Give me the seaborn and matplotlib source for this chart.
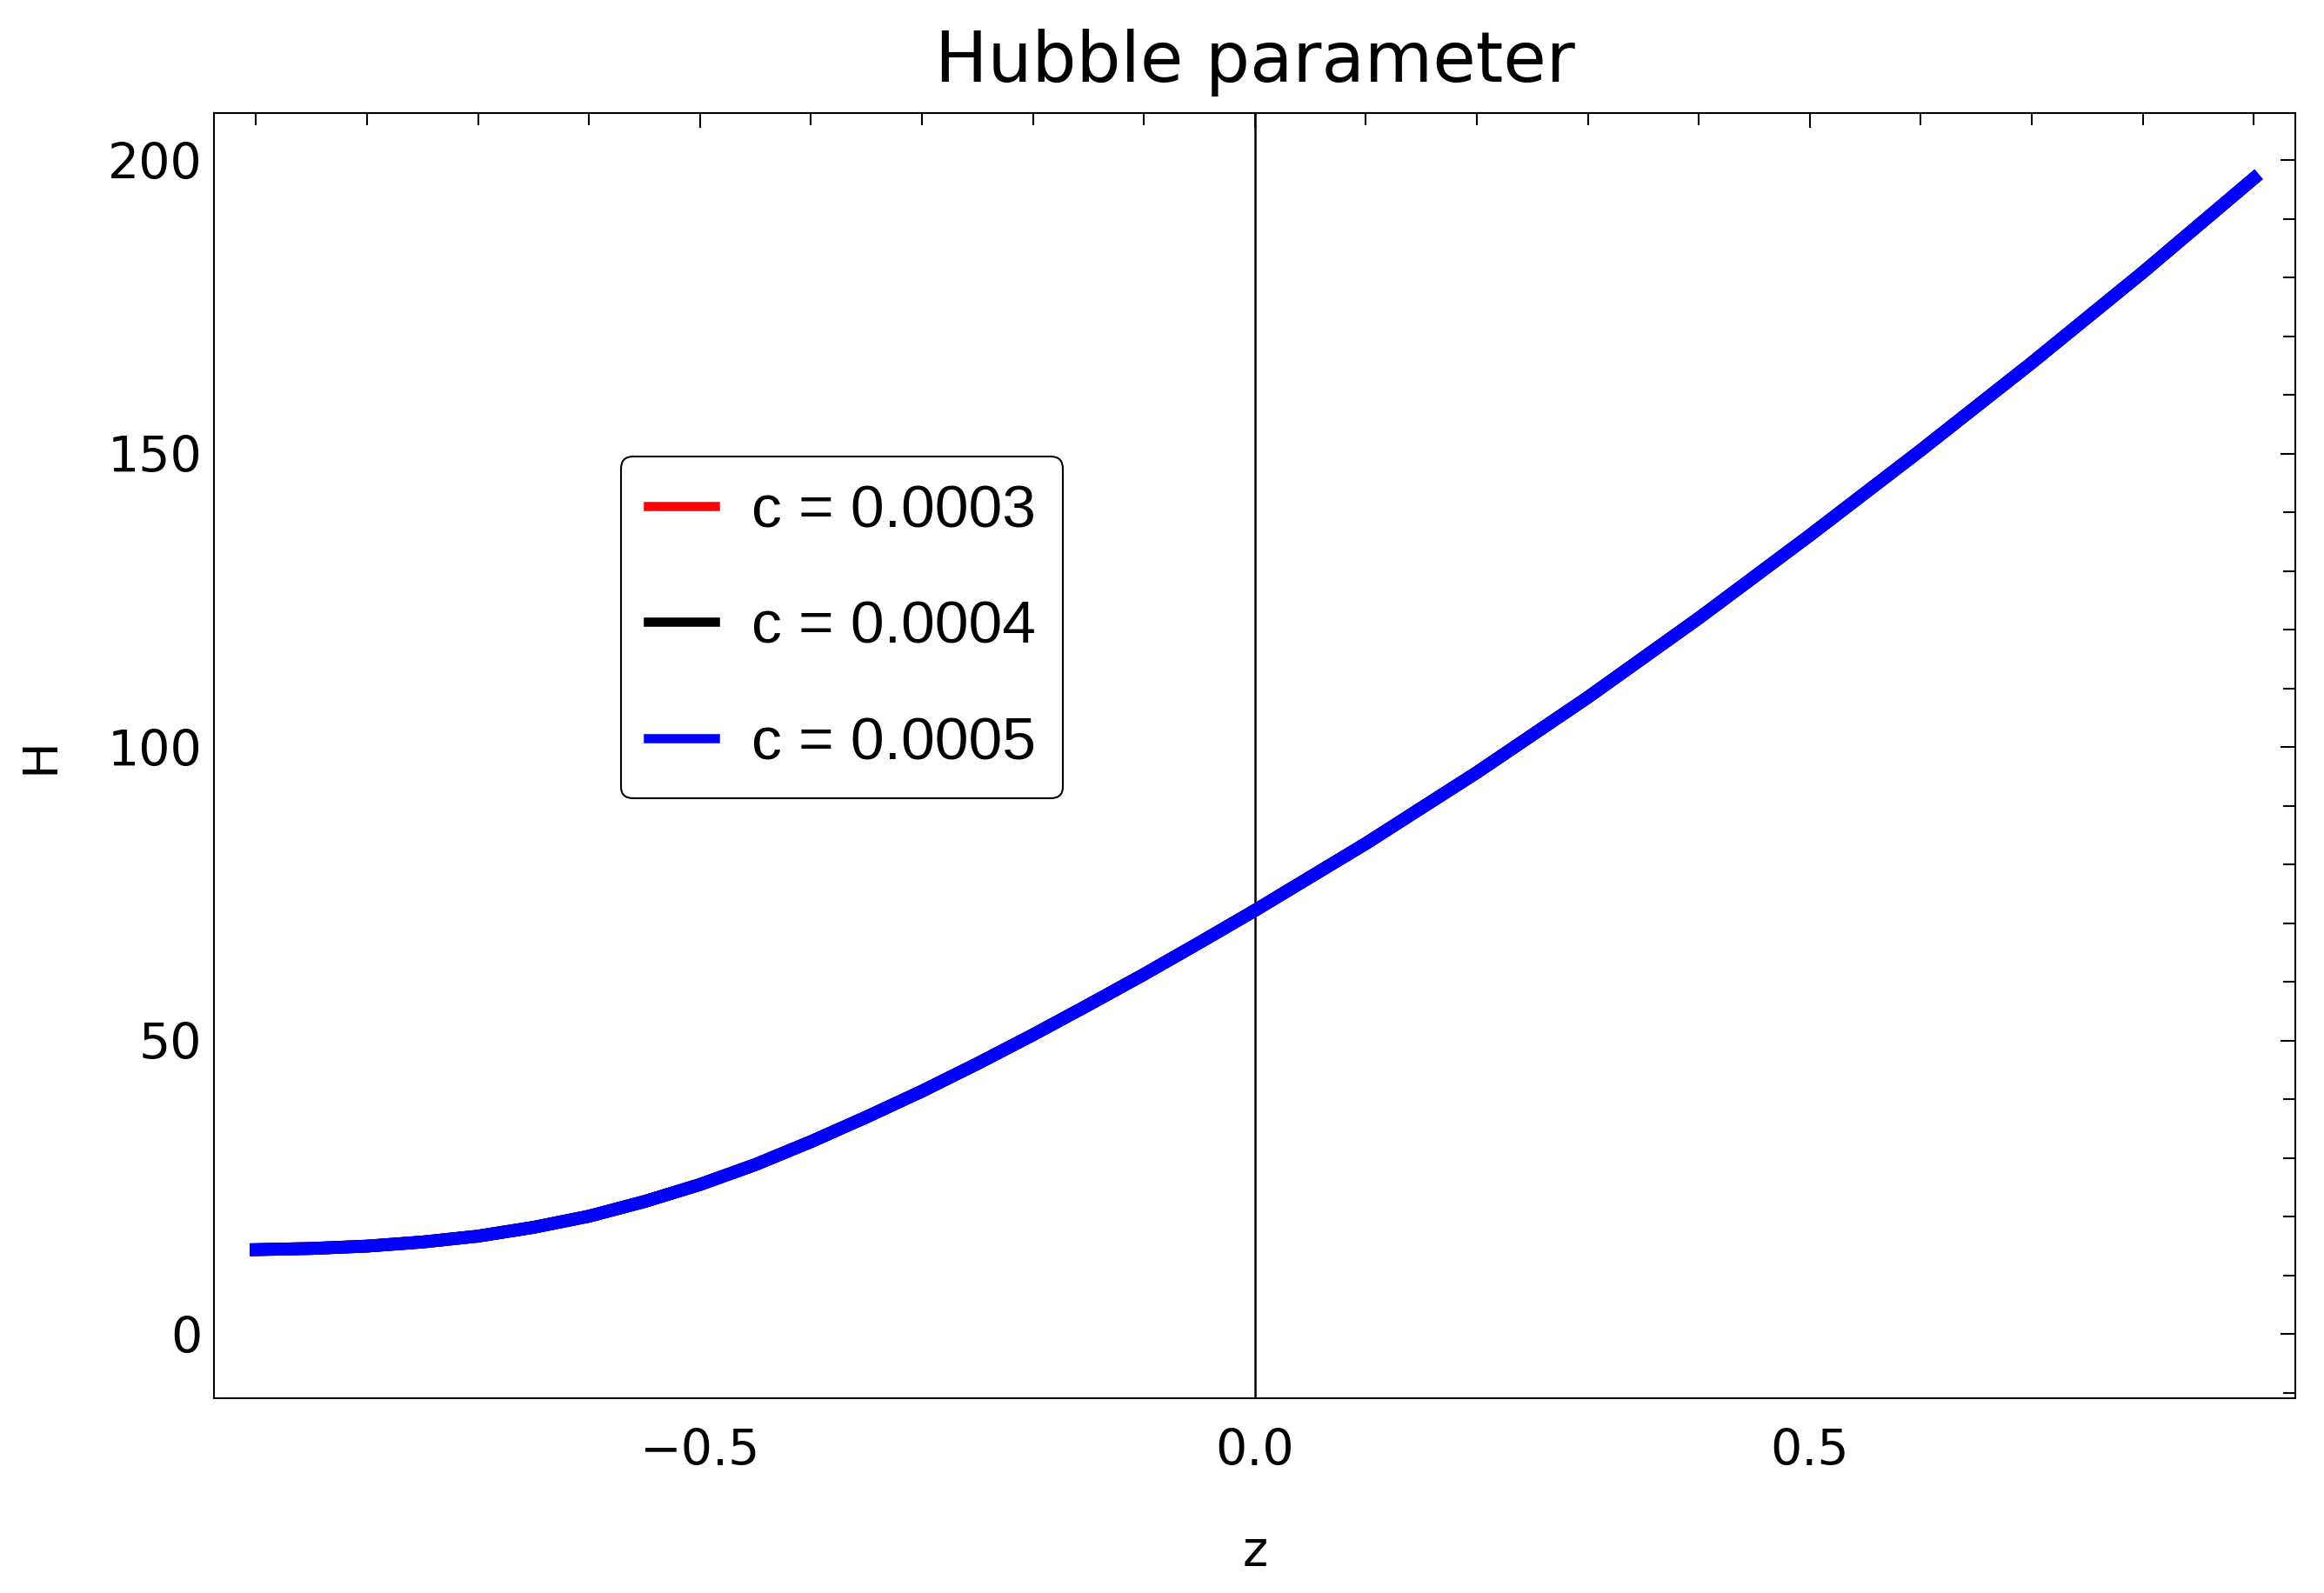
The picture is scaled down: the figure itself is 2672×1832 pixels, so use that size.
import numpy as np
import pandas as pd
import matplotlib
matplotlib.use('Agg')
import matplotlib.pyplot as plt
from matplotlib.ticker import MultipleLocator
import seaborn as sns

# Dữ liệu (z, H) cho 3 giá trị c -- các đường gần như trùng nhau
z = [-0.9, -0.85, -0.8, -0.75, -0.7, -0.65, -0.6, -0.55, -0.5, -0.45, -0.4,
     -0.35, -0.3, -0.25, -0.2, -0.15, -0.1, -0.05, 0.0,
     0.1, 0.2, 0.3, 0.4, 0.5, 0.6, 0.7, 0.8, 0.9]
h_c3 = [14.4, 14.6, 15.0, 15.7, 16.7, 18.2, 20.1, 22.6, 25.5, 28.9, 32.8,
        37.0, 41.4, 46.1, 51.0, 56.1, 61.3, 66.7, 72.2,
        83.6, 95.7, 108.5, 122.0, 136.1, 150.6, 165.5, 180.9, 196.9]
h_c4 = [14.4, 14.6, 15.0, 15.7, 16.7, 18.2, 20.1, 22.6, 25.5, 28.9, 32.8,
        37.0, 41.4, 46.1, 51.0, 56.1, 61.3, 66.7, 72.2,
        83.6, 95.7, 108.5, 122.0, 136.1, 150.6, 165.5, 180.9, 196.9]
h_c5 = [14.4, 14.6, 15.0, 15.7, 16.7, 18.2, 20.1, 22.6, 25.5, 28.9, 32.8,
        37.0, 41.4, 46.1, 51.0, 56.1, 61.3, 66.7, 72.2,
        83.6, 95.7, 108.5, 122.0, 136.1, 150.6, 165.5, 180.9, 196.9]
labels = ['c = 0.0003', 'c = 0.0004', 'c = 0.0005']
colors = ['red', 'black', 'blue']

df = pd.concat([
    pd.DataFrame({'z': z, 'H': h, 'c': lab})
    for h, lab in zip([h_c3, h_c4, h_c5], labels)
], ignore_index=True)

sns.set_theme(style='white')
plt.rcParams['font.family'] = ['DejaVu Sans']
plt.rcParams['text.color'] = 'black'
plt.rcParams['axes.labelcolor'] = 'black'
plt.rcParams['xtick.color'] = 'black'
plt.rcParams['ytick.color'] = 'black'

fig = plt.figure(figsize=(13.36, 9.16), dpi=200)
ax = fig.add_axes([0.0922, 0.1221, 0.9878 - 0.0922, 0.9289 - 0.1221])

ax.axvline(0, color='black', lw=0.9, zorder=1)
sns.lineplot(data=df, x='z', y='H', hue='c', hue_order=labels,
             palette=dict(zip(labels, colors)), estimator=None, sort=False,
             linewidth=5.3, ax=ax, zorder=3)
for ln in ax.get_lines():
    ln.set_solid_capstyle('projecting')
    ln.set_solid_joinstyle('round')

ax.set_xlim(-0.9377, 0.9377)
ax.set_ylim(-10.96, 208)
ax.xaxis.set_major_locator(MultipleLocator(0.5))
ax.xaxis.set_minor_locator(MultipleLocator(0.1))
ax.yaxis.set_major_locator(MultipleLocator(50))
ax.yaxis.set_minor_locator(MultipleLocator(10))
ax.xaxis.set_major_formatter(plt.FuncFormatter(lambda v, p: f'{v:.1f}'.replace('-', '\u2212')))

ax.tick_params(which='both', direction='in', top=True, right=True,
               width=0.75, color='black', labelcolor='black', labelsize=20.5)
ax.tick_params(which='major', length=6.2)
ax.tick_params(which='minor', length=5.0)
ax.tick_params(axis='x', which='major', pad=12)
ax.tick_params(axis='y', which='major', pad=5)
for s in ax.spines.values():
    s.set_color('black')
    s.set_linewidth(0.75)

ax.set_xlabel('z', fontsize=20, labelpad=22, color='black')
ax.set_ylabel('H', fontsize=20, labelpad=18, color='black')
ax.set_title('Hubble parameter', fontsize=29, pad=13, color='black')

leg = ax.legend(loc='upper left', bbox_to_anchor=(714 / 2672, 1 - 525 / 1832),
                bbox_transform=fig.transFigure, borderaxespad=0,
                prop={'family': 'Liberation Sans', 'size': 25},
                frameon=True, fancybox=True, edgecolor='black',
                handlelength=1.11, handletextpad=0.6, labelspacing=1.0,
                borderpad=0.45, title=None)
leg.get_frame().set_linewidth(0.75)
leg.get_frame().set_alpha(1)
for t in leg.get_texts():
    t.set_color('black')
for hl in leg.get_lines():
    hl.set_linewidth(3.8)

fig.savefig('out.png', dpi=200)
